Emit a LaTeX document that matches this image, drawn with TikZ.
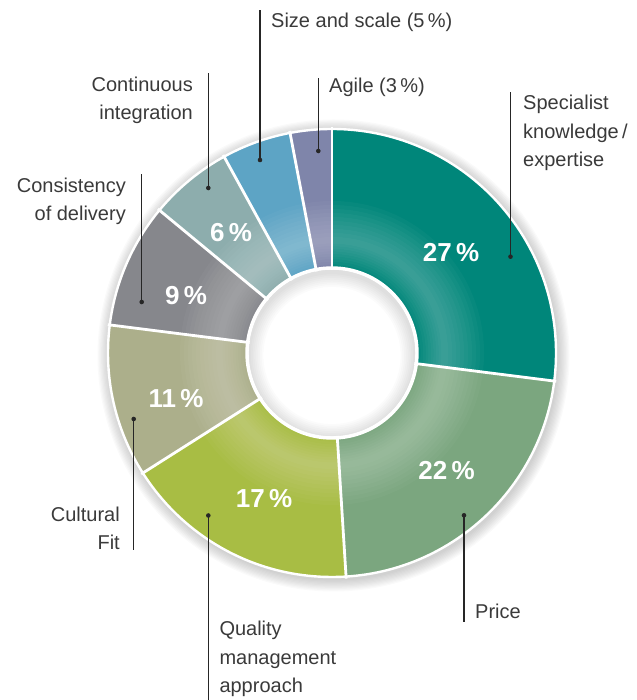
\documentclass[tikz,border=0pt]{standalone}
\usepackage{fontspec}
\setmainfont{Liberation Sans}
\definecolor{txt}{HTML}{3A3A3A}
\definecolor{ldr}{HTML}{262626}
\definecolor{cSpec}{HTML}{00867A}
\definecolor{cPrice}{HTML}{7BA67F}
\definecolor{cQual}{HTML}{A8BD44}
\definecolor{cCult}{HTML}{ACAF8B}
\definecolor{cCons}{HTML}{86878C}
\definecolor{cCont}{HTML}{8DADAD}
\definecolor{cSize}{HTML}{5DA4C5}
\definecolor{cAgile}{HTML}{7F85AA}
\tikzset{
  lbl/.style={font=\fontsize{20}{28.5}\selectfont, text=txt, inner sep=0pt},
  pct/.style={font=\fontsize{26}{30}\selectfont\bfseries, text=white, inner sep=0pt},
  leader/.style={draw=ldr, line width=1.1pt},
  dotmark/.style={circle, fill=ldr, inner sep=0pt, minimum size=4.6pt},
  sepline/.style={draw=white, line width=2.8pt},
}
\newcommand{\donutseg}[3]{%
  \fill[#3] (#1:224) arc[start angle=#1, end angle=#2, radius=224]
    -- (#2:85) arc[start angle=#2, end angle=#1, radius=85] -- cycle;}
\begin{document}
\begin{tikzpicture}[x=1pt,y=1pt]
\useasboundingbox (0,0) rectangle (636,700);
% soft drop shadow
\foreach \k in {1,...,10}{\fill[black, opacity=0.018] (333.5,344.5) circle ({224+\k*1.2});}
\begin{scope}[shift={(332,347)}]
  \donutseg{90}{-7.2}{cSpec}
  \donutseg{-7.2}{-86.4}{cPrice}
  \donutseg{-86.4}{-147.6}{cQual}
  \donutseg{-147.6}{-187.2}{cCult}
  \donutseg{-187.2}{-219.6}{cCons}
  \donutseg{-219.6}{-241.2}{cCont}
  \donutseg{-241.2}{-259.2}{cSize}
  \donutseg{-259.2}{-270}{cAgile}
  % glow band
  \foreach \k in {1,...,10}{\fill[white, opacity=0.026, even odd rule] (0,0) circle ({112+\k*4}) (0,0) circle ({112-\k*2.6});}
  % hole
  \fill[white] (0,0) circle (85);
  \begin{scope}
    \clip (0,0) circle (83.5);
    \foreach \k in {1,...,8}{\fill[black, opacity=0.016, even odd rule] (0,0) circle (84) (0,-2.5) circle ({83-\k*1.8});}
  \end{scope}
  % white separators
  \foreach \a in {90,-7.2,-86.4,-147.6,-187.2,-219.6,-241.2,-259.2}{\draw[sepline] (\a:83) -- (\a:226);}
  \draw[white, line width=3.4pt] (0,0) circle (85);
  \draw[white, line width=2.4pt] (0,0) circle (224);
\end{scope}
% percentages
\node[pct] (p27) at (451,447.5) {27\,\%};
\node[pct] (p22) at (446.5,229.7) {22\,\%};
\node[pct] (p17) at (264,201.7) {17\,\%};
\node[pct] (p11) at (176,301.5) {11\,\%};
\node[pct] (p9) at (186,404) {9\,\%};
\node[pct] (p6) at (231,467) {6\,\%};
% leaders
\node[dotmark] (dSpec) at (510.5,443.3) {};
\coordinate (eSpec) at (510.5,608);
\node[dotmark] (dAgile) at (318.3,549) {};
\coordinate (eAgile) at (318.3,622);
\node[dotmark] (dSize) at (260,540) {};
\coordinate (eSize) at (260,690);
\node[dotmark] (dCont) at (208.3,512) {};
\coordinate (eCont) at (208.3,627);
\node[dotmark] (dCons) at (141.7,398) {};
\coordinate (eCons) at (141.7,526);
\node[dotmark] (dCult) at (133.7,281) {};
\coordinate (eCult) at (133.7,150);
\node[dotmark] (dQual) at (208.3,184.5) {};
\coordinate (eQual) at (208.3,0);
\node[dotmark] (dPrice) at (464,184.7) {};
\coordinate (ePrice) at (464,78.3);
\foreach \n in {Spec,Agile,Size,Cont,Cons,Cult,Qual,Price}{\draw[leader] (d\n.center) -- (e\n);}
% labels (base anchor = baseline of last line)
\node[lbl, anchor=base west, align=left] (tSpec) at (523,533) {Specialist\\knowledge\,/\\expertise};
\node[lbl, anchor=base west] (tAgile) at (329,607) {Agile (3\,\%)};
\node[lbl, anchor=base west] (tSize) at (271,672) {Size and scale (5\,\%)};
\node[lbl, anchor=base east, align=right] (tCont) at (193,580) {Continuous\\integration};
\node[lbl, anchor=base east, align=right] (tCons) at (126,479) {Consistency\\of delivery};
\node[lbl, anchor=base east, align=right] (tCult) at (120,150) {Cultural\\Fit};
\node[lbl, anchor=base west, align=left] (tQual) at (219.3,7) {Quality\\management\\approach};
\node[lbl, anchor=base west] (tPrice) at (475,81) {Price};
\end{tikzpicture}
\end{document}
